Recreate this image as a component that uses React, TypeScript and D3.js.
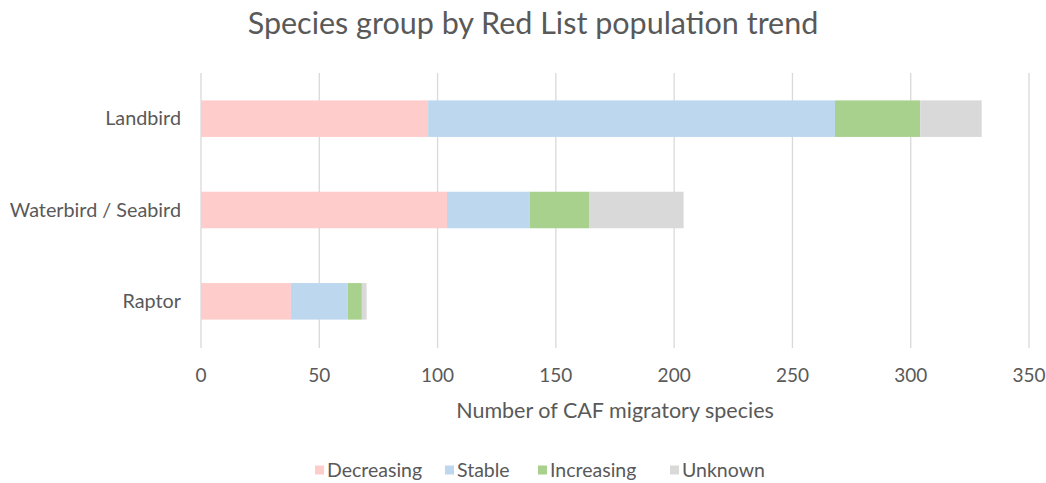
import React, { useEffect, useRef } from "react";
import * as d3 from "d3";

const categories = ["Landbird", "Waterbird / Seabird", "Raptor"];
const seriesNames = ["Decreasing", "Stable", "Increasing", "Unknown"];
const decreasing = [96, 104, 38];
const stable = [172, 35, 24];
const increasing = [36, 25, 6];
const unknown = [26, 40, 2];
const xTicks = [0, 50, 100, 150, 200, 250, 300, 350];
const colors = ["#FFCCCC", "#BDD7EE", "#A9D18E", "#D9D9D9"];

const W = 1046;
const H = 483;
const FONT = "Lato, 'Open Sans', sans-serif";
const TEXT = "#595959";

export default function App() {
  const ref = useRef<SVGSVGElement | null>(null);

  useEffect(() => {
    const svg = d3.select(ref.current);
    svg.selectAll("*").remove();

    const margin = { left: 201, right: 16, top: 73, bottom: 136 };
    const x = d3.scaleLinear().domain([0, 350]).range([margin.left, margin.left + 828]);
    const y = d3
      .scaleBand<string>()
      .domain(categories)
      .range([margin.top, H - margin.bottom])
      .paddingInner(0.6)
      .paddingOuter(0.3);

    const rows = categories.map((c, i) => ({
      category: c,
      Decreasing: decreasing[i],
      Stable: stable[i],
      Increasing: increasing[i],
      Unknown: unknown[i],
    }));
    const stacked = d3.stack<any>().keys(seriesNames)(rows);

    // gridlines
    svg
      .append("g")
      .selectAll("line")
      .data(xTicks)
      .join("line")
      .attr("x1", (d) => x(d))
      .attr("x2", (d) => x(d))
      .attr("y1", margin.top)
      .attr("y2", H - margin.bottom + 1)
      .attr("stroke", "#D9D9D9")
      .attr("stroke-width", 1.3);

    // bars
    svg
      .append("g")
      .selectAll("g")
      .data(stacked)
      .join("g")
      .attr("fill", (_, i) => colors[i])
      .selectAll("rect")
      .data((s) => s)
      .join("rect")
      .attr("x", (d) => x(d[0]))
      .attr("width", (d) => x(d[1]) - x(d[0]))
      .attr("y", (d) => y(d.data.category)!)
      .attr("height", y.bandwidth());

    // x tick labels
    svg
      .append("g")
      .selectAll("text")
      .data(xTicks)
      .join("text")
      .attr("x", (d) => x(d))
      .attr("y", 375)
      .attr("dy", "0.36em")
      .attr("text-anchor", "middle")
      .attr("font-family", FONT)
      .attr("font-size", 19)
      .attr("fill", TEXT)
      .text((d) => d);

    // category labels
    svg
      .append("g")
      .selectAll("text")
      .data(categories)
      .join("text")
      .attr("x", 181)
      .attr("y", (d) => y(d)! + y.bandwidth() / 2)
      .attr("dy", "0.33em")
      .attr("text-anchor", "end")
      .attr("font-family", FONT)
      .attr("font-size", 19.8)
      .attr("fill", TEXT)
      .text((d) => d);

    // axis title
    svg
      .append("text")
      .attr("x", 615)
      .attr("y", 410)
      .attr("dy", "0.36em")
      .attr("text-anchor", "middle")
      .attr("font-family", FONT)
      .attr("font-size", 21.5)
      .attr("fill", TEXT)
      .text("Number of CAF migratory species");

    // chart title
    svg
      .append("text")
      .attr("x", 533)
      .attr("y", 23)
      .attr("dy", "0.36em")
      .attr("text-anchor", "middle")
      .attr("font-family", FONT)
      .attr("font-size", 30.5)
      .attr("fill", TEXT)
      .text("Species group by Red List population trend");

    // legend
    const legendX = [315, 445, 538, 670];
    const lg = svg
      .append("g")
      .selectAll("g")
      .data(seriesNames)
      .join("g")
      .attr("transform", (_, i) => `translate(${legendX[i]},470)`);
    lg.append("rect")
      .attr("x", 0)
      .attr("y", -4.5)
      .attr("width", 9)
      .attr("height", 9)
      .attr("fill", (_, i) => colors[i]);
    lg.append("text")
      .attr("x", 12)
      .attr("y", 0)
      .attr("dy", "0.36em")
      .attr("font-family", FONT)
      .attr("font-size", 19.5)
      .attr("fill", TEXT)
      .text((d) => d);
  }, []);

  return (
    <svg
      ref={ref}
      width={W}
      height={H}
      style={{ display: "block", position: "absolute", left: 0, top: 0, background: "#fff" }}
    />
  );
}
